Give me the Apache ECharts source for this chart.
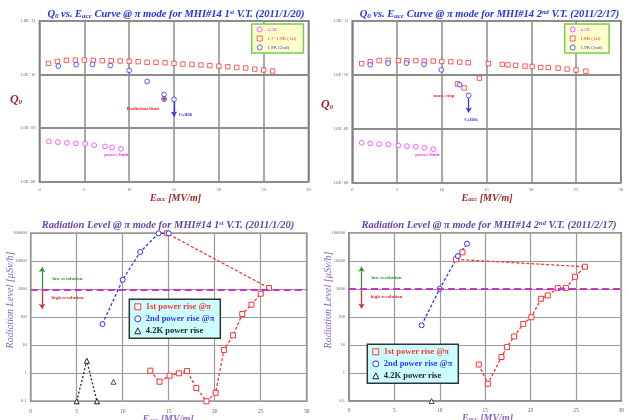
<!DOCTYPE html>
<html><head><meta charset="utf-8">
<script src="https://cdn.jsdelivr.net/npm/echarts@6/dist/echarts.min.js"></script>
<style>html,body{margin:0;padding:0;background:#fff}#c{width:627px;height:420px}</style>
</head><body><div id="c"></div>
<script>
// ---------- data ----------
const xMin = 0, xMax = 30, xStep = 5;
// Top-left: Q0 vs Eacc, 1st V.T.
const tl42kE = [1.05,2.05,3.05,4.05,5.1,6.1,7.3,8.1,9.1];
const tl42kQ = [5.68e8,5.51e8,5.35e8,5.21e8,5.13e8,4.84e8,4.58e8,4.39e8,4.14e8];
const tl1stE = [1,2,3,4,5,6,7,8,9,10,11,12,13,14,15,16,17,18,19,20,21,22,23,24,25,26];
const tl1stQ = [1.61e10,1.75e10,1.83e10,1.85e10,1.85e10,1.83e10,1.80e10,1.80e10,1.78e10,1.75e10,1.73e10,1.68e10,1.68e10,1.65e10,1.61e10,1.56e10,1.54e10,1.50e10,1.46e10,1.43e10,1.39e10,1.35e10,1.32e10,1.26e10,1.21e10,1.16e10];
const tl2ndE = [2.1,4.1,5.9,7.9,10,12,13.9,13.9,15];
const tl2ndQ = [1.43e10,1.52e10,1.54e10,1.47e10,1.19e10,7.4e9,4.25e9,3.48e9,3.43e9];
const tlLimitE = [13.9];
const tlLimitQ = [3.5e9];
const tlCellE = [15,15];
const tlCellQ = [3.1e9,1.65e9];
// Top-right: Q0 vs Eacc, 2nd V.T.
const tr42kE = [1.05,2,3,4.05,5.15,6.1,7.1,8.05,9.05];
const tr42kQ = [5.48e8,5.33e8,5.18e8,5.1e8,4.89e8,4.75e8,4.62e8,4.42e8,4.17e8];
const tr1stE = [1.05,2,3,4,5.15,6.1,7.1,8.05,9.05,10,11,11.75,12,12.5,12.95,14.2,15.2,16.75,17.4,18.25,19.3,20.1,21.05,21.9,23,24,25,26.1];
const tr1stQ = [1.60e10,1.74e10,1.82e10,1.84e10,1.82e10,1.82e10,1.82e10,1.79e10,1.79e10,1.76e10,1.74e10,6.76e9,1.71e10,5.69e9,1.67e10,8.62e9,1.60e10,1.55e10,1.52e10,1.49e10,1.44e10,1.42e10,1.36e10,1.36e10,1.32e10,1.27e10,1.22e10,1.16e10];
const tr2ndE = [2,4,6.05,8,9.95,12,13];
const tr2ndQ = [1.53e10,1.64e10,1.64e10,1.55e10,1.23e10,6.53e9,4.12e9];
const trCellE = [13,13];
const trCellQ = [3.7e9,2.0e9];
// Bottom-left: radiation level, 1st V.T.
const bl1stE = [13,14,15.1,16.1,17,18,19.1,20.1,21,22,23,24,25,25.9,14.8];
const bl1stR = [1.24,0.5,0.82,1.0,1.21,0.30,0.10,0.20,6.8,22.7,131,283,698,1110,100000];
const bl2ndE = [7.8,10,11.9,13.9,15];
const bl2ndR = [57,2200,21500,100000,100000];
const bl42kE = [5,6.1,7.2];
const bl42kR = [0.1,2.8,0.1];
const bl42kLoneE = [9];
const bl42kLoneR = [0.5];
// Bottom-right: radiation level, 2nd V.T.
const br1stE = [14.3,15.3,16.8,17.4,18.2,19.2,20.1,21.15,21.9,23,23.9,24.9,26,11.8,12.5];
const br1stR = [2.0,0.41,3.7,8.3,20,56,97,440,580,1060,1060,2690,6120,11200,19900];
const br2ndE = [8,10,12,13];
const br2ndR = [50,1000,14700,40600];
const br42kE = [9.1];
const br42kR = [0.1];
// reference levels / resolution arrows
const resLimit = 1000;
const blArrowE = 1.23, brArrowE = 1.38;
const arrowLow = 6100, arrowHigh = 200;

// ---------- helpers ----------
const zip = (a, b) => a.map((v, i) => [v, b[i]]);
const serif = "'Liberation Serif','DejaVu Serif',serif";
const C_RED = '#ff3333', C_BLUE = '#3333ff', C_MAG = '#ff33ff', C_BLK = '#222';

function tok(size, color, style, weight, va) {
  return {fontSize: size, fontFamily: serif, fontStyle: style || 'normal', fontWeight: weight || 'normal', fill: color, color: color, verticalAlign: va || 'bottom'};
}
function rtext(x, y, text, rich, rot) {
  return {type: 'text', x: x, y: y, rotation: rot || 0, silent: true, z: 100,
    style: {text: text, rich: rich, align: 'center', verticalAlign: 'middle'}};
}
function ptext(x, y, text, color, size, weight) {
  return {type: 'text', x: x, y: y, silent: true, z: 100,
    style: {text: text, fill: color, font: (weight || 'bold') + ' ' + size + 'px ' + serif, align: 'center', verticalAlign: 'middle'}};
}

const topYFmt = v => { const e = Math.round(Math.log10(v)); return '1.0E' + (e >= 0 ? '+' : '-') + String(Math.abs(e)).padStart(2, '0'); };
const botYFmt = v => v < 1 ? String(+v.toFixed(1)) : String(Math.round(v));

function xAx(g, top) {
  return {type: 'value', gridIndex: g, min: xMin, max: xMax, interval: xStep,
    axisLine: {show: false}, axisTick: {show: false},
    splitLine: {show: true, lineStyle: {color: top ? '#8c8c8c' : '#9a9a9a', width: top ? 1.5 : 1.2}},
    axisLabel: {fontSize: top ? 4.5 : 5.5, color: '#666', margin: top ? 5 : 7, fontFamily: serif}};
}
function yAxTop(g) {
  return {type: 'log', logBase: 10, gridIndex: g, min: 1e8, max: 1e11,
    axisLine: {show: false}, axisTick: {show: false}, minorTick: {show: false},
    splitLine: {show: true, lineStyle: {color: '#8c8c8c', width: 2}},
    axisLabel: {fontSize: 4.5, color: '#666', margin: 4, fontFamily: serif, formatter: topYFmt}};
}
function yAxBot(g) {
  return {type: 'log', logBase: 10, gridIndex: g, min: 0.1, max: 100000,
    axisLine: {show: false}, axisTick: {show: false},
    splitLine: {show: true, lineStyle: {color: '#9a9a9a', width: 1.2}},
    axisLabel: {fontSize: 4.5, color: '#666', margin: 4, fontFamily: serif, formatter: botYFmt}};
}
function sc(name, g, data, symbol, color, size) {
  return {name: name, type: 'scatter', xAxisIndex: g, yAxisIndex: g, data: data, symbol: symbol, symbolSize: size || 4.8,
    clip: false, itemStyle: {color: '#fff', borderColor: color, borderWidth: 1}, z: 3};
}
function ln(name, g, data, symbol, color, dash) {
  return {name: name, type: 'line', xAxisIndex: g, yAxisIndex: g, data: data, symbol: symbol, symbolSize: 5, showSymbol: true,
    clip: false, lineStyle: {color: color, width: 1.3, type: dash || [3, 2]},
    itemStyle: {color: '#fff', borderColor: color, borderWidth: 1}, z: 3};
}
function arrowML(pairs, color) {
  return {silent: true, animation: false, symbol: ['none', 'arrow'], symbolSize: 5, label: {show: false},
    lineStyle: {color: color, width: 1.3, type: 'solid'},
    data: pairs.map(p => [{coord: p[0], lineStyle: {color: p[2] || color, width: 1.3, type: 'solid'}, itemStyle: {color: p[2] || color}},
                          {coord: p[1], lineStyle: {color: p[2] || color}, itemStyle: {color: p[2] || color}}])};
}
const limitML = {silent: true, animation: false, symbol: 'none', label: {show: false},
  lineStyle: {color: '#cc33cc', width: 2, type: [7, 4]}, data: [{yAxis: resLimit}]};

// series
const s = [];
s.push(sc('4.2K', 0, zip(tl42kE, tl42kQ), 'circle', C_MAG));
s.push(sc('1.7~1.9K (1st)', 0, zip(tl1stE, tl1stQ), 'rect', C_RED, 4.4));
const tl2 = sc('1.9K (2nd)', 0, zip(tl2ndE, tl2ndQ), 'circle', C_BLUE);
tl2.markLine = arrowML([[[tlCellE[0], tlCellQ[0]], [tlCellE[1], tlCellQ[1]]]], C_BLUE);
s.push(tl2);
s.push({name: 'limit', type: 'scatter', xAxisIndex: 0, yAxisIndex: 0, data: zip(tlLimitE, tlLimitQ), symbol: 'diamond', symbolSize: 4, itemStyle: {color: '#cc0000'}, z: 4});

s.push(sc('4.2K', 1, zip(tr42kE, tr42kQ), 'circle', C_MAG));
s.push(sc('1.8K (1st)', 1, zip(tr1stE, tr1stQ), 'rect', C_RED, 4.4));
const tr2 = sc('1.9K (2nd)', 1, zip(tr2ndE, tr2ndQ), 'circle', C_BLUE);
tr2.markLine = arrowML([[[trCellE[0], trCellQ[0]], [trCellE[1], trCellQ[1]]]], C_BLUE);
s.push(tr2);

const bl1 = ln('1st power rise @π', 2, zip(bl1stE, bl1stR), 'rect', C_RED);
bl1.markLine = arrowML([[[blArrowE, resLimit], [blArrowE, arrowLow], '#2e9a2e'], [[blArrowE, resLimit], [blArrowE, arrowHigh], '#cc3333']], '#2e9a2e');
s.push(bl1);
const bl2 = ln('2nd power rise @π', 2, zip(bl2ndE, bl2ndR), 'circle', C_BLUE);
bl2.markLine = limitML;
s.push(bl2);
s.push(ln('4.2K power rise', 2, zip(bl42kE, bl42kR), 'triangle', C_BLK, [2, 2]));
s.push(sc('4.2K power rise', 2, zip(bl42kLoneE, bl42kLoneR), 'triangle', C_BLK, 5));

const br1 = ln('1st power rise @π', 3, zip(br1stE, br1stR), 'rect', C_RED);
br1.markLine = arrowML([[[brArrowE, resLimit], [brArrowE, arrowLow], '#2e9a2e'], [[brArrowE, resLimit], [brArrowE, arrowHigh], '#cc3333']], '#2e9a2e');
s.push(br1);
const br2 = ln('2nd power rise @π', 3, zip(br2ndE, br2ndR), 'circle', C_BLUE);
br2.markLine = JSON.parse(JSON.stringify(limitML));
s.push(br2);
s.push(sc('4.2K power rise', 3, zip(br42kE, br42kR), 'triangle', C_BLK, 5));

const hollow = c => ({color: '#fff', borderColor: c, borderWidth: 1});
function topLegend(left, names) {
  return {orient: 'vertical', left: left, top: 24, padding: [2.5, 7, 2.5, 5], itemWidth: 5, itemHeight: 5, itemGap: 3,
    backgroundColor: '#ffffcc', borderColor: '#77cc55', borderWidth: 1.5, selectedMode: false,
    textStyle: {fontSize: 5, fontFamily: serif},
    data: [{name: names[0], icon: 'circle', itemStyle: hollow(C_MAG), textStyle: {color: C_MAG}},
           {name: names[1], icon: 'rect', itemStyle: hollow(C_RED), textStyle: {color: C_RED}},
           {name: names[2], icon: 'circle', itemStyle: hollow(C_BLUE), textStyle: {color: C_BLUE}}]};
}
function botLegend(left, top) {
  return {orient: 'vertical', left: left, top: top, padding: [3, 6, 3, 5], itemWidth: 6, itemHeight: 6, itemGap: 3,
    backgroundColor: '#ccffff', borderColor: '#333', borderWidth: 1.5, selectedMode: false,
    textStyle: {fontSize: 8.5, fontFamily: serif, fontWeight: 'bold'},
    data: [{name: '1st power rise @π', icon: 'rect', itemStyle: hollow(C_RED), textStyle: {color: C_RED}},
           {name: '2nd power rise @π', icon: 'circle', itemStyle: hollow(C_BLUE), textStyle: {color: C_BLUE}},
           {name: '4.2K power rise', icon: 'triangle', itemStyle: hollow(C_BLK), textStyle: {color: C_BLK}}]};
}

// rich title tokens
const TB = '#2233ee', TV = '#6644aa', LR = '#a02828', LV = '#8866cc';
const titleRich = c => ({b: tok(10.5, c, 'italic', 'bold'), s: tok(7, c, 'italic', 'bold', 'bottom'), p: tok(6.5, c, 'italic', 'bold', 'top')});
const labRich = c => ({b: tok(10, c, 'italic', 'bold'), s: tok(6.5, c, 'italic', 'bold', 'bottom')});

const graphics = [
  rtext(176, 14, '{b|Q}{s|0}{b| vs. E}{s|acc}{b| Curve @ π mode for MHI#14 1}{p|st}{b| V.T. (2011/1/20)}', titleRich(TB)),
  rtext(489.5, 14, '{b|Q}{s|0}{b| vs. E}{s|acc}{b| Curve @ π mode for MHI#14 2}{p|nd}{b| V.T. (2011/2/17)}', titleRich(TB)),
  rtext(168, 225, '{b|Radiation Level @ π mode for MHI#14 1}{p|st}{b| V.T. (2011/1/20)}', titleRich(TV)),
  rtext(489, 225, '{b|Radiation Level @ π mode for MHI#14 2}{p|nd}{b| V.T. (2011/2/17)}', titleRich(TV)),
  rtext(16, 100, '{b|Q}{s|0}', {b: tok(12, LR, 'italic', 'bold'), s: tok(7, LR, 'italic', 'bold', 'bottom')}),
  rtext(327, 105, '{b|Q}{s|0}', {b: tok(12, LR, 'italic', 'bold'), s: tok(7, LR, 'italic', 'bold', 'bottom')}),
  rtext(175.5, 198, '{b|E}{s|acc}{b| [MV/m]}', labRich(LR)),
  rtext(487, 198, '{b|E}{s|acc}{b| [MV/m]}', labRich(LR)),
  rtext(168, 419, '{b|E}{s|acc}{b| [MV/m]}', labRich(LV)),
  rtext(487.5, 418, '{b|E}{s|acc}{b| [MV/m]}', labRich(LV)),
  rtext(10, 300, '{b|Radiation Level [µSv/h]}', {b: tok(10, LV, 'italic', 'normal')}, Math.PI / 2),
  rtext(328, 300, '{b|Radiation Level [µSv/h]}', {b: tok(10, LV, 'italic', 'normal')}, Math.PI / 2),
  ptext(143, 109, 'Radiation limit', '#ff2222', 5),
  ptext(185.5, 115, 'Cell#6', C_BLUE, 5),
  ptext(116.5, 155, 'power limit', C_MAG, 5),
  ptext(444, 96, 'man. stop', '#ff2222', 5),
  ptext(471, 119.5, 'Cell#6', C_BLUE, 5),
  ptext(427.5, 155, 'power limit', C_MAG, 5),
  ptext(67.5, 279, 'low resolution', '#2e9a2e', 5),
  ptext(67.5, 298, 'high resolution', '#cc3333', 5),
  ptext(386.5, 278, 'low resolution', '#2e9a2e', 5),
  ptext(386.5, 297, 'high resolution', '#cc3333', 5)
];

const option = {
  animation: false,
  backgroundColor: '#fff',
  grid: [
    {left: 39.5, top: 20.7, width: 269, height: 161.3, show: true, borderColor: '#555', borderWidth: 1.5, backgroundColor: 'transparent'},
    {left: 352.3, top: 20.7, width: 268.5, height: 162, show: true, borderColor: '#555', borderWidth: 1.5, backgroundColor: 'transparent'},
    {left: 30.7, top: 233.3, width: 276, height: 168, show: true, borderColor: '#666', borderWidth: 1.5, backgroundColor: 'transparent'},
    {left: 349, top: 232.7, width: 276.6, height: 168.3, show: true, borderColor: '#666', borderWidth: 1.5, backgroundColor: 'transparent'}
  ],
  xAxis: [xAx(0, true), xAx(1, true), xAx(2, false), xAx(3, false)],
  yAxis: [yAxTop(0), yAxTop(1), yAxBot(2), yAxBot(3)],
  legend: [topLegend(251.7, ['4.2K', '1.7~1.9K (1st)', '1.9K (2nd)']),
           topLegend(564.7, ['4.2K', '1.8K (1st)', '1.9K (2nd)']),
           botLegend(129.3, 299.3), botLegend(367.3, 344.3)],
  series: s,
  graphic: graphics
};
const chart = echarts.init(document.getElementById('c'), null, {renderer: 'canvas'});
chart.setOption(option);
</script></body></html>
